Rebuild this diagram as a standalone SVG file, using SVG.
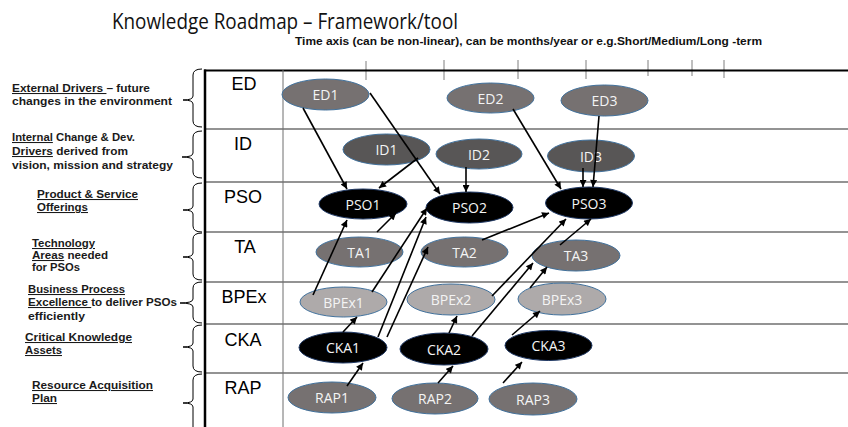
<svg xmlns="http://www.w3.org/2000/svg" width="848" height="427" viewBox="0 0 848 427">
<style>
.lbl{font-family:"Liberation Sans",Arial,sans-serif;font-weight:bold;font-size:10.5px;fill:#1a1a1a}
.u{text-decoration:underline}
.row{font-family:"Liberation Sans",Arial,sans-serif;font-size:18px;fill:#000;text-anchor:middle}
.nt{font-family:"Open Sans","Liberation Sans",sans-serif;font-size:14px;fill:#f4f4f4;text-anchor:middle}
.ed{fill:#767171;stroke:#41719c;stroke-width:1}
.id{fill:#585656;stroke:#41719c;stroke-width:1}
.blk{fill:#000;stroke:#1f3864;stroke-width:1}
.gr{fill:#767171;stroke:#41719c;stroke-width:1}
.lt{fill:#aeaaaa;stroke:#41719c;stroke-width:1}
.brace{fill:none;stroke:#000;stroke-width:1}
.grid{stroke:#6f6f6f;stroke-width:1.3}
.tick{stroke:#7f7f7f;stroke-width:1}
.con line{stroke:#000;stroke-width:1.6;marker-end:url(#ah)}
</style>
<defs>
<marker id="ah" viewBox="0 0 10 10" refX="10" refY="5" markerWidth="8" markerHeight="7" markerUnits="userSpaceOnUse" orient="auto">
<path d="M0,0 L10,5 L0,10 z" fill="#000"/>
</marker>
</defs>
<rect width="848" height="427" fill="#fff"/>

<g id="title">
<text x="112" y="29" font-family="'Open Sans','Liberation Sans',sans-serif" font-size="21" fill="#111" textLength="346" lengthAdjust="spacingAndGlyphs">Knowledge Roadmap – Framework/tool</text>
<text x="295" y="45" font-family="'Liberation Sans',Arial,sans-serif" font-weight="bold" font-size="10" fill="#111" textLength="467" lengthAdjust="spacingAndGlyphs">Time axis (can be non-linear), can be months/year or e.g.Short/Medium/Long -term</text>
</g>

<g id="grid">
<line class="tick" x1="366" y1="61" x2="366" y2="80"/>
<line class="tick" x1="444" y1="60" x2="444" y2="80"/>
<line class="tick" x1="518" y1="60" x2="518" y2="79"/>
<line class="tick" x1="586" y1="60" x2="586" y2="79"/>
<line class="tick" x1="648" y1="60" x2="648" y2="76"/>
<line class="tick" x1="692" y1="60" x2="692" y2="76"/>
<line class="tick" x1="724" y1="60" x2="724" y2="78"/>
<line x1="204" y1="70.5" x2="848" y2="70.5" stroke="#000" stroke-width="2"/>
<line x1="283" y1="70" x2="283" y2="427" stroke="#6f6f6f" stroke-width="1"/>
<line class="grid" x1="205" y1="129" x2="848" y2="129"/>
<line class="grid" x1="205" y1="182" x2="848" y2="182"/>
<line class="grid" x1="205" y1="232" x2="848" y2="232"/>
<line class="grid" x1="205" y1="282" x2="848" y2="282"/>
<line class="grid" x1="205" y1="324" x2="848" y2="324"/>
<line class="grid" x1="205" y1="373" x2="848" y2="373"/>
<line x1="205" y1="69.5" x2="205" y2="427" stroke="#000" stroke-width="2.5"/>
</g>

<g id="braces">
<path class="brace" d="M202,69 Q193,69 193,75 L193,96 Q193,100 183,100 Q193,100 193,104 L193,121 Q193,127 202,127"/>
<path class="brace" d="M202,131 Q193,131 193,137 L193,153 Q193,157 182,157 Q193,157 193,161 L193,172 Q193,178 202,178"/>
<path class="brace" d="M202,183 Q193,183 193,189 L193,206 Q193,210 183,210 Q193,210 193,214 L193,226 Q193,232 202,232"/>
<path class="brace" d="M202,233 Q193,233 193,239 L193,253 Q193,257 183,257 Q193,257 193,261 L193,274 Q193,280 202,280"/>
<path class="brace" d="M202,282 Q193,282 193,288 L193,299 Q193,303 180,303 Q193,303 193,307 L193,317 Q193,323 202,323"/>
<path class="brace" d="M202,325 Q193,325 193,331 L193,343 Q193,347 183,347 Q193,347 193,351 L193,366 Q193,372 202,372"/>
<path class="brace" d="M202,374 Q193,374 193,380 L193,399 Q193,403 183,403 Q193,403 193,407 L193,427"/>
</g>

<g id="row-labels">
<text class="row" x="244" y="90">ED</text>
<text class="row" x="243" y="150">ID</text>
<text class="row" x="243" y="203">PSO</text>
<text class="row" x="245" y="253">TA</text>
<text class="row" x="244" y="303">BPEx</text>
<text class="row" x="243" y="346">CKA</text>
<text class="row" x="243" y="394">RAP</text>
</g>

<g id="side-labels">
<text class="lbl" x="12" y="92" textLength="138" lengthAdjust="spacingAndGlyphs"><tspan class="u">External Drivers </tspan>– future</text>
<text class="lbl" x="12" y="105" textLength="160" lengthAdjust="spacingAndGlyphs">changes in the environment</text>
<text class="lbl" x="12" y="141" textLength="123" lengthAdjust="spacingAndGlyphs"><tspan class="u">Internal</tspan> Change &amp; Dev.</text>
<text class="lbl" x="12" y="155" textLength="116" lengthAdjust="spacingAndGlyphs"><tspan class="u">Drivers</tspan> derived from</text>
<text class="lbl" x="12" y="169" textLength="161" lengthAdjust="spacingAndGlyphs">vision, mission  and strategy</text>
<text class="lbl" x="37" y="198" textLength="101" lengthAdjust="spacingAndGlyphs"><tspan class="u">Product &amp; Service</tspan></text>
<text class="lbl" x="37" y="211" textLength="51" lengthAdjust="spacingAndGlyphs"><tspan class="u">Offerings</tspan></text>
<text class="lbl" x="32" y="247" textLength="63" lengthAdjust="spacingAndGlyphs"><tspan class="u">Technology</tspan></text>
<text class="lbl" x="32" y="259" textLength="76" lengthAdjust="spacingAndGlyphs"><tspan class="u">Areas</tspan> needed</text>
<text class="lbl" x="32" y="271" textLength="48" lengthAdjust="spacingAndGlyphs">for PSOs</text>
<text class="lbl" x="28" y="293" textLength="97" lengthAdjust="spacingAndGlyphs"><tspan class="u">Business Process</tspan></text>
<text class="lbl" x="28" y="306" textLength="149" lengthAdjust="spacingAndGlyphs"><tspan class="u">Excellence </tspan>to deliver PSOs</text>
<text class="lbl" x="28" y="320" textLength="57" lengthAdjust="spacingAndGlyphs">efficiently</text>
<text class="lbl" x="25" y="341" textLength="107" lengthAdjust="spacingAndGlyphs"><tspan class="u">Critical Knowledge</tspan></text>
<text class="lbl" x="25" y="354" textLength="37" lengthAdjust="spacingAndGlyphs"><tspan class="u">Assets</tspan></text>
<text class="lbl" x="32" y="389" textLength="121" lengthAdjust="spacingAndGlyphs"><tspan class="u">Resource Acquisition</tspan></text>
<text class="lbl" x="32" y="402" textLength="25" lengthAdjust="spacingAndGlyphs"><tspan class="u">Plan</tspan></text>
</g>

<g id="ED1"><ellipse class="ed" cx="325.5" cy="94.5" rx="43.5" ry="15.5"/><text class="nt" x="325.5" y="100">ED1</text></g>
<g id="ED2"><ellipse class="ed" cx="490.5" cy="98" rx="43.5" ry="15"/><text class="nt" x="490.5" y="103.5">ED2</text></g>
<g id="ED3"><ellipse class="ed" cx="604.5" cy="100.5" rx="43.5" ry="15.5"/><text class="nt" x="604.5" y="106">ED3</text></g>

<g id="ID1"><ellipse class="id" cx="386.5" cy="149.5" rx="43.5" ry="15.5"/><text class="nt" x="386.5" y="155">ID1</text></g>
<g id="ID2"><ellipse class="id" cx="479" cy="154" rx="43" ry="15"/><text class="nt" x="479" y="159.5">ID2</text></g>
<g id="ID3"><ellipse class="id" cx="591" cy="156" rx="43.5" ry="16"/><text class="nt" x="591" y="161.5">ID3</text></g>

<g id="PSO1"><ellipse class="blk" cx="363" cy="204" rx="44" ry="15"/><text class="nt" x="363" y="209.5">PSO1</text></g>
<g id="PSO2"><ellipse class="blk" cx="469.5" cy="207.5" rx="43.5" ry="15.5"/><text class="nt" x="469.5" y="213">PSO2</text></g>
<g id="PSO3"><ellipse class="blk" cx="589" cy="203" rx="43.5" ry="16"/><text class="nt" x="589" y="208.5">PSO3</text></g>

<g id="TA1"><ellipse class="gr" cx="359.5" cy="252" rx="43.5" ry="15"/><text class="nt" x="359.5" y="257.5">TA1</text></g>
<g id="TA2"><ellipse class="gr" cx="464.5" cy="252" rx="43.5" ry="15"/><text class="nt" x="464.5" y="257.5">TA2</text></g>
<g id="TA3"><ellipse class="gr" cx="576" cy="255.5" rx="44" ry="15.5"/><text class="nt" x="576" y="261">TA3</text></g>

<g id="BPEx1"><ellipse class="lt" cx="343.5" cy="302" rx="43.5" ry="15"/><text class="nt" x="343.5" y="307.5">BPEx1</text></g>
<g id="BPEx2"><ellipse class="lt" cx="451" cy="299.5" rx="44" ry="15.5"/><text class="nt" x="451" y="305">BPEx2</text></g>
<g id="BPEx3"><ellipse class="lt" cx="562" cy="299" rx="44" ry="16"/><text class="nt" x="562" y="304.5">BPEx3</text></g>

<g id="CKA1"><ellipse class="blk" cx="343" cy="347.5" rx="44" ry="15.5"/><text class="nt" x="343" y="353">CKA1</text></g>
<g id="CKA2"><ellipse class="blk" cx="444" cy="349" rx="44" ry="16"/><text class="nt" x="444" y="354.5">CKA2</text></g>
<g id="CKA3"><ellipse class="blk" cx="548.5" cy="345.5" rx="43.5" ry="15"/><text class="nt" x="548.5" y="351">CKA3</text></g>

<g id="RAP1"><ellipse class="gr" cx="332" cy="397.5" rx="44" ry="15.5"/><text class="nt" x="332" y="403">RAP1</text></g>
<g id="RAP2"><ellipse class="gr" cx="435" cy="398.5" rx="43" ry="15.5"/><text class="nt" x="435" y="404">RAP2</text></g>
<g id="RAP3"><ellipse class="gr" cx="533" cy="399" rx="44" ry="16"/><text class="nt" x="533" y="404.5">RAP3</text></g>

<g id="connectors" class="con">
<line x1="303" y1="108" x2="347" y2="189"/>
<line x1="370" y1="93" x2="440" y2="194"/>
<line x1="418" y1="158" x2="379" y2="188"/>
<line x1="466" y1="167" x2="466" y2="192"/>
<line x1="513" y1="109" x2="561" y2="189"/>
<line x1="599" y1="116" x2="593" y2="187"/>
<line x1="583" y1="168" x2="583" y2="187"/>
<line x1="377" y1="232" x2="396" y2="213"/>
<line x1="313" y1="295" x2="347" y2="220"/>
<line x1="372" y1="292" x2="427" y2="208"/>
<line x1="378" y1="337" x2="426" y2="217"/>
<line x1="387" y1="337" x2="428" y2="247"/>
<line x1="343" y1="332" x2="357" y2="317"/>
<line x1="347" y1="386" x2="363" y2="363"/>
<line x1="438" y1="383" x2="453" y2="366"/>
<line x1="503" y1="383" x2="522" y2="362"/>
<line x1="449" y1="333" x2="457" y2="316"/>
<line x1="472" y1="336" x2="533" y2="263"/>
<line x1="492" y1="296" x2="566" y2="219"/>
<line x1="482" y1="240" x2="549" y2="213"/>
<line x1="560" y1="245" x2="591" y2="219"/>
<line x1="530" y1="288" x2="547" y2="267"/>
<line x1="512" y1="335" x2="540" y2="311"/>
</g>
</svg>
